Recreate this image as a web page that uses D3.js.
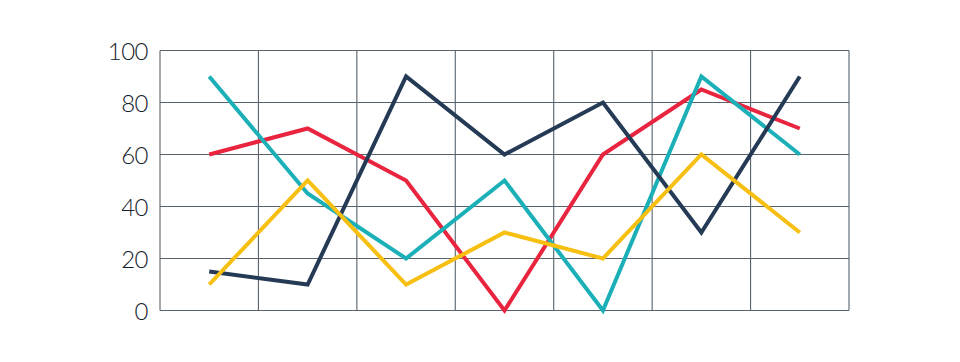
<!DOCTYPE html>
<html><head><meta charset="utf-8">
<script src="https://cdn.jsdelivr.net/npm/d3@7"></script>
<style>html,body{margin:0;padding:0;background:#fff;}</style>
</head><body><svg id="c" width="960" height="362"></svg>
<script>
const categories = ["A","B","C","D","E","F","G"];
const redValues    = [60, 70, 50, 0, 60, 85, 70];
const tealValues   = [90, 45, 20, 50, 0, 90, 60];
const navyValues   = [15, 10, 90, 60, 80, 30, 90];
const yellowValues = [10, 50, 10, 30, 20, 60, 30];
const yTicks = [0, 20, 40, 60, 80, 100];

const series = [
  {name:"red", values:redValues, color:"#e8243f"},
  {name:"teal", values:tealValues, color:"#1bb0b7"},
  {name:"navy", values:navyValues, color:"#243a55"},
  {name:"yellow", values:yellowValues, color:"#f6bf11"}
];

const svg = d3.select("#c");
const pLeft = 160, pRight = 849, pTop = 50.5, pBottom = 310.5;
const x = d3.scaleBand().domain(categories).range([pLeft, pRight]).padding(0);
const y = d3.scaleLinear().domain([0, 100]).range([pBottom, pTop]);
const gridColor = "#56636d";

const g = svg.append("g");
g.selectAll(".hg").data(yTicks).enter().append("line")
  .attr("x1", pLeft).attr("x2", pRight)
  .attr("y1", d => y(d)).attr("y2", d => y(d))
  .attr("stroke", gridColor).attr("stroke-width", 1.1);
const vx = categories.map(c => x(c)).concat([pRight]);
g.selectAll(".vg").data(vx).enter().append("line")
  .attr("x1", d => d).attr("x2", d => d)
  .attr("y1", pTop).attr("y2", pBottom)
  .attr("stroke", gridColor).attr("stroke-width", 1.1);

const yAxis = d3.axisLeft(y).tickValues(yTicks).tickSize(0).tickPadding(12);
const ya = svg.append("g").attr("transform", `translate(${pLeft},0)`).call(yAxis);
ya.select(".domain").remove();
ya.selectAll("text")
  .attr("font-family", "Lato, 'Open Sans', sans-serif")
  .attr("font-weight", 300)
  .attr("font-size", 24)
  .attr("letter-spacing", -0.5)
  .attr("fill", "#15222e")
  .attr("dy", "0.36em");

const line = d3.line()
  .x((d, i) => x(categories[i]) + x.bandwidth() / 2)
  .y(d => y(d));

svg.selectAll(".s").data(series).enter().append("path")
  .attr("d", d => line(d.values))
  .attr("fill", "none")
  .attr("stroke", d => d.color)
  .attr("stroke-width", 4)
  .attr("stroke-linejoin", "miter")
  .attr("stroke-linecap", "butt");
</script>
</body></html>
